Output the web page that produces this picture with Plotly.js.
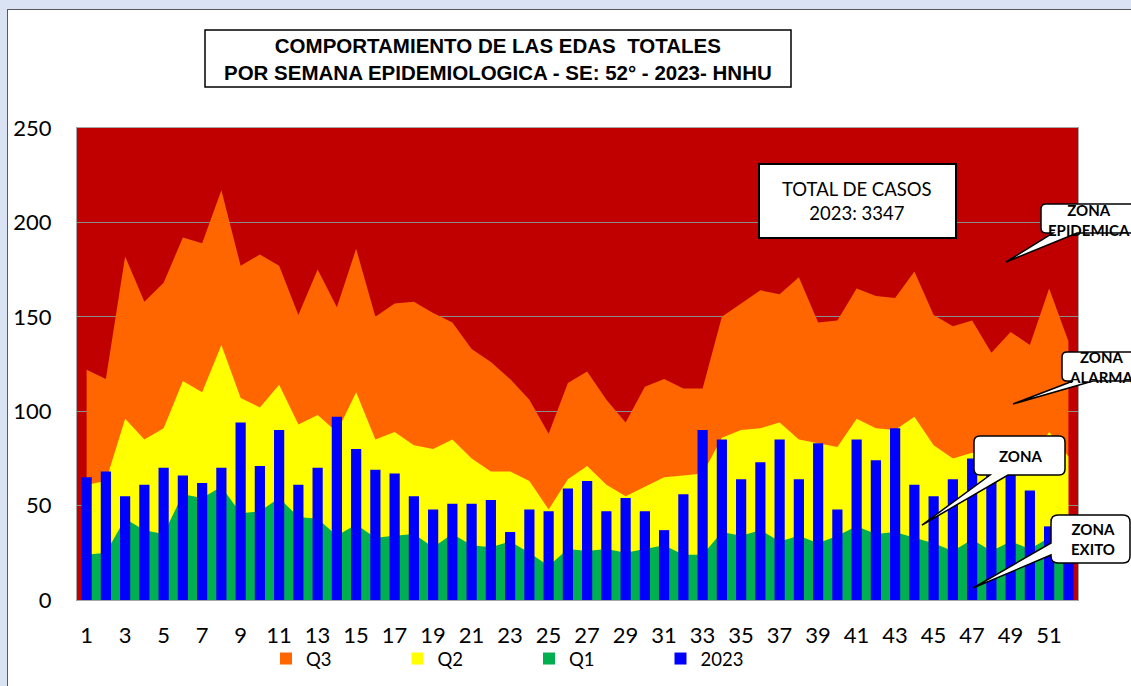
<!DOCTYPE html>
<html>
<head>
<meta charset="utf-8">
<script src="https://cdn.plot.ly/plotly-3.0.1.min.js"></script>
<style>
  html, body { margin:0; padding:0; }
  body { width:1131px; height:686px; position:relative; overflow:hidden; background:#DAE3F3; }
  #frame { position:absolute; left:7px; top:9px; right:0; bottom:0; background:#ffffff; border-left:1px solid #5a5a5a; border-top:1px solid #5a5a5a; }
  #chart { position:absolute; left:0; top:0; width:1131px; height:686px; }
</style>
</head>
<body>
<div id="frame"></div>
<div id="chart"></div>
<script>
// ---- data ----
const weeks = [1,2,3,4,5,6,7,8,9,10,11,12,13,14,15,16,17,18,19,20,21,22,23,24,25,26,
               27,28,29,30,31,32,33,34,35,36,37,38,39,40,41,42,43,44,45,46,47,48,49,50,51,52];
const q3 = [122,117,182,158,168,192,189,217,177,183,177,151,175,155,
            186,150,157,158,152,147,133,126,117,106,88,115,121,106,
            94,113,117,112,112,150,157,164,162,171,147,148,165,
            161,160,174,151,145,148,131,142,135,165,137];
const q2 = [61,63,96,85,91,116,110,135,107,102,114,93,98,89,
            110,85,89,82,80,85,75,68,68,63,48,64,71,61,
            55,60,65,66,67,86,90,91,94,85,83,81,96,
            91,90,97,82,75,78,74,77,73,89,76];
const q1 = [24,25,43,37,35,56,54,60,46,47,54,44,43,34,
            40,33,34,35,28,35,29,28,31,25,18,27,26,27,
            25,27,29,24,24,36,34,37,31,34,30,34,39,
            35,36,33,30,26,32,26,31,27,33,34];
const y2023 = [65,68,55,61,70,66,62,70,94,71,90,61,70,97,
               80,69,67,55,48,51,51,53,36,48,47,59,63,47,
               54,47,37,56,90,85,64,73,85,64,83,48,85,
               74,91,61,55,64,75,70,73,58,39,42];
const xTickVals = [1,3,5,7,9,11,13,15,17,19,21,23,25,27,29,31,33,35,37,39,41,43,45,47,49,51];
const yTickVals = [0,50,100,150,200,250];
const seriesNames = ['Q3','Q2','Q1','2023'];
const seriesColors = ['#FF6600','#FFFF00','#00B050','#0000FF'];
const titleLines = ['COMPORTAMIENTO DE LAS EDAS  TOTALES','POR SEMANA EPIDEMIOLOGICA - SE: 52° - 2023- HNHU'];
const totalLines = ['TOTAL DE CASOS','2023: 3347'];

// ---- geometry helpers (pixel -> paper) ----
const ML = 77, MT = 128, PW = 1001, PH = 472, W = 1131, H = 686;
const px = x => (x - ML) / PW;
const py = y => (MT + PH - y) / PH;
const P = (x, y) => px(x).toFixed(5) + ',' + py(y).toFixed(5);

function callout(x0, y0, x1, y1, r, side, a, b, tx, ty) {
  let d = 'M' + P(x0 + r, y0) + ' L' + P(x1 - r, y0) +
          ' Q' + P(x1, y0) + ' ' + P(x1, y0 + r) +
          ' L' + P(x1, y1 - r) +
          ' Q' + P(x1, y1) + ' ' + P(x1 - r, y1);
  if (side === 'bottom') {
    d += ' L' + P(b, y1) + ' L' + P(tx, ty) + ' L' + P(a, y1);
  }
  d += ' L' + P(x0 + r, y1) + ' Q' + P(x0, y1) + ' ' + P(x0, y1 - r);
  if (side === 'left') {
    d += ' L' + P(x0, b) + ' L' + P(tx, ty) + ' L' + P(x0, a);
  }
  d += ' L' + P(x0, y0 + r) + ' Q' + P(x0, y0) + ' ' + P(x0 + r, y0) + ' Z';
  return { type:'path', xref:'paper', yref:'paper', path:d,
           fillcolor:'#ffffff', line:{color:'#000000', width:1.5}, layer:'above' };
}

const areaTrace = (vals, i) => ({
  type:'scatter', x:weeks, y:vals, mode:'none', fill:'tozeroy',
  fillcolor:seriesColors[i], showlegend:false, hoverinfo:'skip'
});
const legendDummy = i => ({
  type:'bar', x:[null], y:[null], name:seriesNames[i], xaxis:'x', yaxis:'y2',
  marker:{color:seriesColors[i]}, showlegend:true
});

const data = [
  areaTrace(q3, 0), areaTrace(q2, 1), areaTrace(q1, 2),
  legendDummy(0), legendDummy(1), legendDummy(2),
  { type:'bar', x:weeks, y:y2023, name:seriesNames[3], xaxis:'x', yaxis:'y2',
    width:0.53, marker:{color:seriesColors[3], line:{width:0}} }
];

const ann = (x, y, text, font) => ({
  xref:'paper', yref:'paper', x:px(x), y:py(y), xanchor:'center', yanchor:'middle',
  text:text, showarrow:false, font:font
});
const calloutFont = {family:'Lato, "Liberation Sans", sans-serif', size:15, color:'#000', weight:'bold'};

const layout = {
  width:W, height:H,
  margin:{l:ML, r:W - ML - PW, t:MT, b:H - MT - PH, pad:0},
  paper_bgcolor:'rgba(0,0,0,0)',
  plot_bgcolor:'#C00000',
  font:{family:'Lato, "Liberation Sans", sans-serif', color:'#000000', size:22},
  barmode:'overlay',
  showlegend:true,
  legend:{orientation:'h', xref:'container', yref:'container',
          x:266 / W, y:1 - 659 / H, xanchor:'left', yanchor:'middle',
          font:{size:18.5}, entrywidth:86.5, entrywidthmode:'pixels',
          bgcolor:'rgba(0,0,0,0)', traceorder:'normal'},
  xaxis:{range:[0.5, 52.5], tickmode:'array', tickvals:xTickVals, ticktext:xTickVals.map(String),
         showgrid:false, zeroline:false, showline:true, mirror:true, linecolor:'#A6A6A6', linewidth:1,
         ticks:'', ticklabelstandoff:16, tickfont:{size:22}, fixedrange:true},
  yaxis:{range:[0, 250], tickmode:'array', tickvals:yTickVals, ticktext:yTickVals.map(String),
         showgrid:true, gridcolor:'#8C8C8C', gridwidth:1, zeroline:false,
         showline:true, mirror:true, linecolor:'#A6A6A6', linewidth:1,
         ticks:'', ticklabelstandoff:20, tickfont:{size:22}, fixedrange:true},
  yaxis2:{range:[0, 250], overlaying:'y', visible:false, showgrid:false, fixedrange:true},
  shapes:[
    { type:'rect', xref:'paper', yref:'paper', x0:px(205), x1:px(791), y0:py(30), y1:py(87),
      fillcolor:'#ffffff', line:{color:'#000000', width:1.5}, layer:'above' },
    { type:'rect', xref:'paper', yref:'paper', x0:px(759), x1:px(956), y0:py(164), y1:py(238),
      fillcolor:'#ffffff', line:{color:'#000000', width:2}, layer:'above' },
    callout(1041, 204, 1160, 233, 5, 'bottom', 1053, 1077, 1006, 262),
    callout(1062, 352, 1160, 381, 5, 'bottom', 1073, 1093, 1013, 404),
    callout(974, 436, 1065, 475, 6, 'bottom', 990, 1008, 922, 525),
    callout(1051, 515, 1130, 563, 7, 'left', 543, 555, 973, 588)
  ],
  annotations:[
    ann(498, 59, titleLines.join('<br>'),
        {family:'"Liberation Sans", Arial, sans-serif', size:20.5, color:'#000', weight:'bold'}),
    ann(857, 201, totalLines.join('<br>'),
        {family:'Lato, "Liberation Sans", sans-serif', size:18.5, color:'#000'}),
    ann(1089, 220, 'ZONA<br>EPIDEMICA', calloutFont),
    ann(1101, 367, 'ZONA<br>ALARMA', calloutFont),
    ann(1021, 456, 'ZONA', calloutFont),
    ann(1093, 539, 'ZONA<br>EXITO', calloutFont)
  ]
};

Plotly.newPlot('chart', data, layout, {displayModeBar:false, staticPlot:true});
</script>
</body>
</html>
